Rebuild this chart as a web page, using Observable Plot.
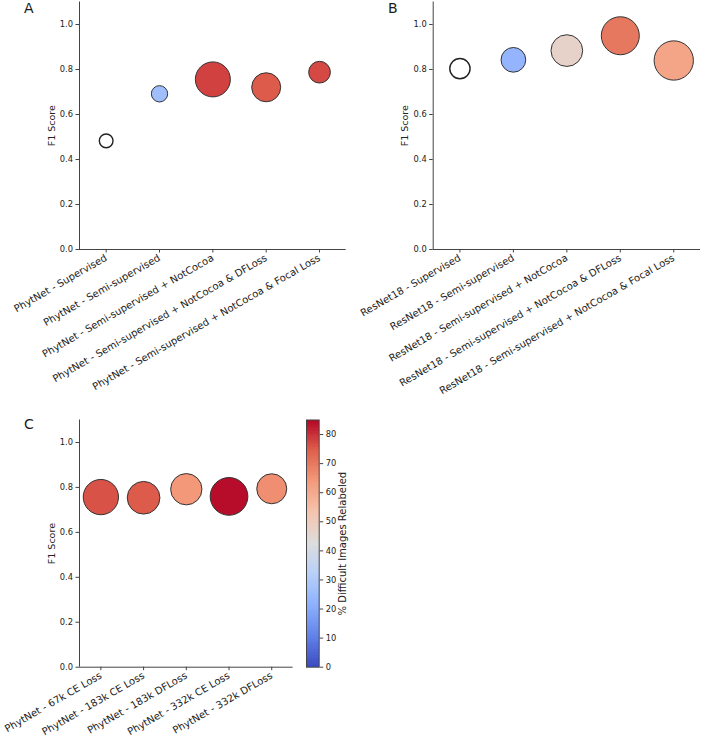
<!DOCTYPE html>
<html>
<head>
<meta charset="utf-8">
<script src="https://cdn.jsdelivr.net/npm/d3@7"></script>
<script src="https://cdn.jsdelivr.net/npm/@observablehq/plot@0.6"></script>
<style>
  html, body { margin: 0; padding: 0; background: #fff; }
  #wrap { position: relative; width: 702px; height: 738px; overflow: hidden; font-family: "DejaVu Sans", sans-serif; }
  .panel { position: absolute; }
  .letter { position: absolute; font-size: 14px; color: #1a1a1a; line-height: 1; font-family: "DejaVu Sans", sans-serif; }
</style>
</head>
<body>
<div id="wrap"></div>
<script>
// ---- Data ----
const labelsA = [
  "PhytNet - Supervised",
  "PhytNet - Semi-supervised",
  "PhytNet - Semi-supervised + NotCocoa",
  "PhytNet - Semi-supervised + NotCocoa & DFLoss",
  "PhytNet - Semi-supervised + NotCocoa & Focal Loss"
];
const f1A = [0.483, 0.692, 0.756, 0.721, 0.788];
const pctA = [null, 26, 78, 75, 77];
const sizeA = [188, 266, 1225, 841, 471];

const labelsB = [
  "ResNet18 - Supervised",
  "ResNet18 - Semi-supervised",
  "ResNet18 - Semi-supervised + NotCocoa",
  "ResNet18 - Semi-supervised + NotCocoa & DFLoss",
  "ResNet18 - Semi-supervised + NotCocoa & Focal Loss"
];
const f1B = [0.804, 0.843, 0.884, 0.950, 0.840];
const pctB = [null, 23, 47, 70, 61];
const sizeB = [412, 610, 1005, 1444, 1544];

const labelsC = [
  "PhytNet - 67k CE Loss",
  "PhytNet - 183k CE Loss",
  "PhytNet - 183k DFLoss",
  "PhytNet - 332k CE Loss",
  "PhytNet - 332k DFLoss"
];
const f1C = [0.757, 0.754, 0.792, 0.760, 0.794];
const pctC = [76, 75, 64, 84, 66];
const sizeC = [1246, 1069, 980, 1421, 900];

const yTicks = [0, 0.2, 0.4, 0.6, 0.8, 1.0];
const cbarTicks = [0, 10, 20, 30, 40, 50, 60, 70, 80];
const cbarMax = 85;
// coolwarm colormap stops
const coolwarm = ["#3b4cc0", "#6282ea", "#8db0fe", "#b8d0f9", "#dddddd", "#f5c4ad", "#f49a7b", "#de604d", "#b40426"];

// ---- Helpers ----
const colorScale = {
  type: "linear",
  domain: coolwarm.map((_, i) => cbarMax * i / (coolwarm.length - 1)),
  range: coolwarm,
  interpolate: "rgb"
};
const FONT = "DejaVu Sans";
const AX = "#444";
const TXT = "#222";

function rows(labels, f1, pct, size) {
  return labels.map((l, i) => ({i, label: l, f1: f1[i], pct: pct[i], size: size[i]}));
}

function panel(data, labels, opts) {
  return Plot.plot({
    width: opts.width,
    height: opts.height,
    marginLeft: opts.ml,
    marginRight: opts.mr,
    marginTop: opts.mt,
    marginBottom: opts.mb,
    style: {fontFamily: FONT, color: TXT, background: "transparent", overflow: "visible"},
    x: {domain: [-0.5, 4.5], axis: null},
    y: {domain: [0, 1.1], axis: null},
    r: {type: "sqrt", domain: [0, 1600], range: [0, 20]},
    color: colorScale,
    marks: [
      Plot.ruleY([0], {stroke: AX, strokeWidth: 1}),
      Plot.ruleX([-0.5], {stroke: AX, strokeWidth: 1}),
      Plot.axisY({ticks: yTicks, tickFormat: d3.format(".1f"), tickSize: 3.5, tickPadding: 3, fontSize: 8.3, stroke: AX, fill: TXT, label: null}),
      Plot.axisX({ticks: [0, 1, 2, 3, 4], tickFormat: i => labels[i], tickSize: 3.5, tickPadding: 4, tickRotate: -30, fontSize: 10, stroke: AX, fill: TXT, label: null}),
      Plot.text(["F1 Score"], {frameAnchor: "left", dx: opts.ylabDx, rotate: -90, fontSize: 9.5, fill: TXT, textAnchor: "middle"}),
      Plot.dot(data.filter(d => d.pct == null), {x: "i", y: "f1", r: "size", fill: "white", stroke: "#222", strokeWidth: 1.4}),
      Plot.dot(data.filter(d => d.pct != null), {x: "i", y: "f1", r: "size", fill: "pct", stroke: "#333", strokeWidth: 1})
    ]
  });
}

function colorbar() {
  const step = 0.5;
  const bands = d3.range(0, cbarMax, step);
  return Plot.plot({
    width: 80,
    height: 338,
    marginLeft: 26,
    marginRight: 41.3,
    marginTop: 19.5,
    marginBottom: 71.3,
    style: {fontFamily: FONT, color: TXT, background: "transparent", overflow: "visible"},
    x: {domain: [0, 1], axis: null},
    y: {domain: [0, cbarMax], axis: null},
    color: colorScale,
    marks: [
      Plot.rect(bands, {x1: () => 0, x2: () => 1, y1: d => d, y2: d => Math.min(cbarMax, d + step * 2), fill: d => d + step / 2, shapeRendering: "crispEdges"}),
      Plot.frame({stroke: AX, strokeWidth: 1}),
      Plot.axisY({anchor: "right", ticks: cbarTicks, tickSize: 3.5, tickPadding: 3, fontSize: 8.3, stroke: AX, fill: TXT, label: null}),
      Plot.text(["% Difficult Images Relabeled"], {frameAnchor: "right", dx: 23.5, rotate: -90, fontSize: 10, fill: TXT, textAnchor: "middle"})
    ]
  });
}

// ---- Layout ----
const wrap = document.getElementById("wrap");
function place(node, left, top) {
  node.classList.add("panel");
  node.style.left = left + "px";
  node.style.top = top + "px";
  wrap.appendChild(node);
}
function letter(txt, left, top) {
  const d = document.createElement("div");
  d.className = "letter";
  d.textContent = txt;
  d.style.left = left + "px";
  d.style.top = top + "px";
  wrap.appendChild(d);
}

place(panel(rows(labelsA, f1A, pctA, sizeA), labelsA,
  {width: 351, height: 400, ml: 79, mr: 5.3, mt: 1.5, mb: 151, ylabDx: -28}), 0, 0);
place(panel(rows(labelsB, f1B, pctB, sizeB), labelsB,
  {width: 351, height: 400, ml: 81.7, mr: 2, mt: 1.5, mb: 151, ylabDx: -28}), 351, 0);
place(panel(rows(labelsC, f1C, pctC, sizeC), labelsC,
  {width: 300, height: 338, ml: 79, mr: 7.4, mt: 19.5, mb: 71.3, ylabDx: -28}), 0, 400);
place(colorbar(), 280, 400);

letter("A", 24, 1);
letter("B", 388, 1);
letter("C", 24, 417);
</script>
</body>
</html>
